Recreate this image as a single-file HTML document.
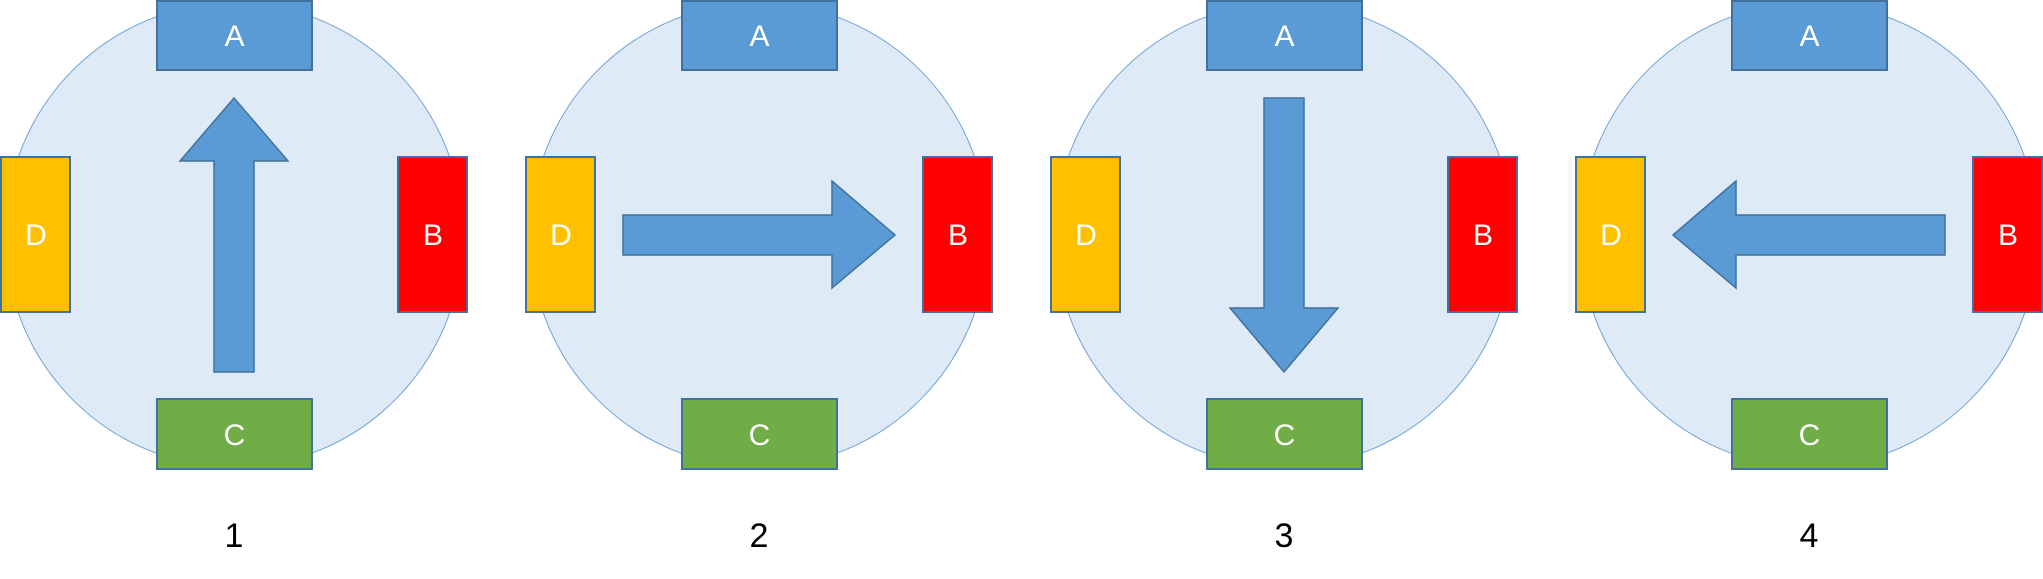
<!DOCTYPE html>
<html><head><meta charset="utf-8"><style>html,body{margin:0;padding:0;background:#fff}svg{display:block}</style></head>
<body>
<svg width="2043" height="579" viewBox="0 0 2043 579" xmlns="http://www.w3.org/2000/svg" font-family="Liberation Sans, DejaVu Sans, sans-serif">
<defs>
<g id="base">
  <ellipse cx="234" cy="235" rx="229" ry="232" fill="#deeaf6" stroke="#6fa3d8" stroke-width="1"/>
  <rect x="157" y="1" width="155" height="69" fill="#5b9bd5" stroke="#41719c" stroke-width="2"/>
  <rect x="157" y="399" width="155" height="70" fill="#70ad47" stroke="#41719c" stroke-width="2"/>
  <text x="234.5" y="46" font-size="30" fill="#fff" text-anchor="middle">A</text>
  <text x="234.5" y="445" font-size="30" fill="#fff" text-anchor="middle">C</text>
  <rect x="1" y="157" width="69" height="155" fill="#ffc000" stroke="#41719c" stroke-width="2"/>
  <rect x="398" y="157" width="69" height="155" fill="#ff0000" stroke="#41719c" stroke-width="2"/>
  <text x="36" y="245" font-size="30" fill="#fff" text-anchor="middle">D</text>
  <text x="433" y="245" font-size="30" fill="#fff" text-anchor="middle">B</text>
</g>
</defs>
<g transform="translate(0,0)">
  <use href="#base"/>
  <polygon points="234,98 288,161 254,161 254,372 214,372 214,161 180,161" fill="#5b9bd5" stroke="#41719c" stroke-width="1.5"/>
  <text x="234" y="547" font-size="34" fill="#000" text-anchor="middle">1</text>
</g>
<g transform="translate(525,0)">
  <use href="#base"/>
  <polygon points="370,235 307,181 307,215 98,215 98,255 307,255 307,288" fill="#5b9bd5" stroke="#41719c" stroke-width="1.5"/>
  <text x="234" y="547" font-size="34" fill="#000" text-anchor="middle">2</text>
</g>
<g transform="translate(1050,0)">
  <use href="#base"/>
  <polygon points="234,372 288,308 254,308 254,98 214,98 214,308 180,308" fill="#5b9bd5" stroke="#41719c" stroke-width="1.5"/>
  <text x="234" y="547" font-size="34" fill="#000" text-anchor="middle">3</text>
</g>
<g transform="translate(1575,0)">
  <use href="#base"/>
  <polygon points="98,235 161,181 161,215 370,215 370,255 161,255 161,288" fill="#5b9bd5" stroke="#41719c" stroke-width="1.5"/>
  <text x="234" y="547" font-size="34" fill="#000" text-anchor="middle">4</text>
</g>
</svg>
</body></html>
